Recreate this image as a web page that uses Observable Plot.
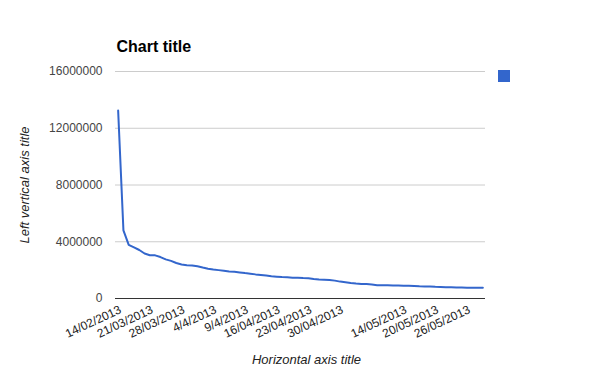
<!DOCTYPE html>
<html>
<head>
<meta charset="utf-8">
<script src="https://cdn.jsdelivr.net/npm/d3@7"></script>
<script src="https://cdn.jsdelivr.net/npm/@observablehq/plot@0.6"></script>
<style>
  html, body { margin: 0; padding: 0; background: #fff; }
  #chart { position: relative; width: 600px; height: 371px; font-family: Arial, "Liberation Sans", sans-serif; }
  #legend { position: absolute; left: 498px; top: 70px; width: 12px; height: 12px; background: #3366cc; }
</style>
</head>
<body>
<div id="chart"><div id="legend"></div></div>
<script>
// Series values (one per category, in millions)
const values = [
  13.25, 4.8, 3.78, 3.6, 3.42, 3.17, 3.05, 3.04, 2.92, 2.76,
  2.65, 2.5, 2.4, 2.35, 2.33, 2.27, 2.18, 2.1, 2.04, 2.0,
  1.96, 1.91, 1.88, 1.84, 1.79, 1.75, 1.7, 1.66, 1.62, 1.57,
  1.54, 1.51, 1.49, 1.47, 1.46, 1.44, 1.43, 1.38, 1.34, 1.32,
  1.3, 1.26, 1.19, 1.15, 1.1, 1.06, 1.03, 1.02, 0.99, 0.94,
  0.93, 0.93, 0.92, 0.91, 0.9, 0.89, 0.88, 0.86, 0.85, 0.84,
  0.82, 0.81, 0.8, 0.79, 0.78, 0.77, 0.765, 0.76, 0.755, 0.75
].map(v => v * 1e6);

// Category positions that carry a visible label, and their labels
const tickIndex = [0, 6, 12, 18, 24, 30, 36, 42, 54, 60, 66];
const tickLabels = ["14/02/2013", "21/03/2013", "28/03/2013", "4/4/2013", "9/4/2013",
  "16/04/2013", "23/04/2013", "30/04/2013", "14/05/2013", "20/05/2013", "26/05/2013"];

const yTicks = [0, 4000000, 8000000, 12000000, 16000000];

const categories = values.map((v, i) => i);
const data = values.map((v, i) => ({cat: categories[i], value: v}));
const xTicks = tickIndex.map((c, i) => ({cat: c, label: tickLabels[i]}));

const chart = Plot.plot({
  width: 600,
  height: 371,
  marginLeft: 115,
  marginRight: 115,
  marginTop: 71,
  marginBottom: 73,
  style: {fontFamily: 'Arial, "Liberation Sans", sans-serif', background: "#fff"},
  x: {type: "point", domain: categories, padding: 0.5, round: false, axis: null},
  y: {domain: [0, 16000000], axis: null},
  marks: [
    Plot.ruleY(yTicks.filter(d => d > 0), {stroke: "#cccccc", strokeWidth: 1}),
    Plot.ruleY([0], {stroke: "#333333", strokeWidth: 1}),
    Plot.text(yTicks, {y: d => d, text: d => d3.format("d")(d), frameAnchor: "left",
      textAnchor: "end", dx: -13, fill: "#444444", fontSize: 12}),
    Plot.line(data, {x: "cat", y: "value", stroke: "#3366cc", strokeWidth: 2}),
    Plot.text(xTicks, {x: "cat", text: "label", frameAnchor: "bottom", textAnchor: "end",
      rotate: -25, dx: 4, dy: 14, fill: "#222222", fontSize: 12}),
    Plot.text(["Chart title"], {frameAnchor: "top-left", textAnchor: "start", dx: 1, dy: -31,
      fontSize: 16, fontWeight: "bold", fill: "#000"}),
    Plot.text(["Horizontal axis title"], {frameAnchor: "bottom", textAnchor: "middle", dx: 6, dy: 65,
      fontSize: 13, fontStyle: "italic", fill: "#222222"}),
    Plot.text(["Left vertical axis title"], {frameAnchor: "left", textAnchor: "middle", rotate: -90, dx: -91,
      fontSize: 13, fontStyle: "italic", fill: "#222222"})
  ]
});
document.getElementById("chart").prepend(chart);
</script>
</body>
</html>
